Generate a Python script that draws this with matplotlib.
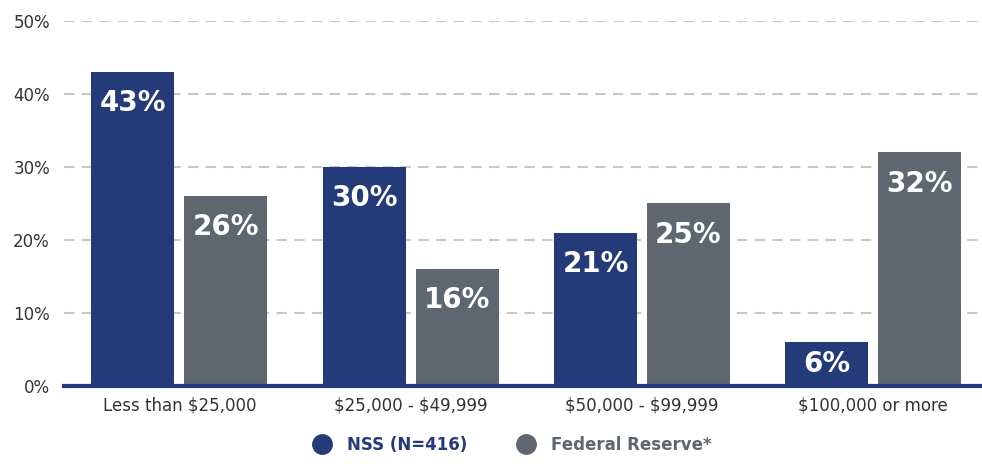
import matplotlib.pyplot as plt
import numpy as np
from matplotlib.lines import Line2D

plt.rcParams['text.parse_math'] = False

categories = ['Less than $25,000', '$25,000 - $49,999', '$50,000 - $99,999', '$100,000 or more']
nss = [43, 30, 21, 6]
fed = [26, 16, 25, 32]
series_names = ['NSS (N=416)', 'Federal Reserve*']

navy = '#253a79'
gray = '#5e6770'

fig = plt.figure(figsize=(9.82, 4.66), dpi=100)
ax = fig.add_axes([0.065, 0.172, 0.935, 0.783])

x = np.arange(len(categories))
w = 0.359
off = 0.201
b1 = ax.bar(x - off, nss, w, color=navy, zorder=3)
b2 = ax.bar(x + off, fed, w, color=gray, zorder=3)

for bars, vals in [(b1, nss), (b2, fed)]:
    for b, v in zip(bars, vals):
        ax.text(b.get_x() + b.get_width() / 2, max(v - 4.3, v * 0.5), f'{v}%', ha='center', va='center',
                color='white', fontsize=20, fontweight='bold', zorder=4)

ax.set_xlim(-0.5, 3.47)
ax.set_ylim(0, 50)
ax.set_yticks([0, 10, 20, 30, 40, 50])
ax.set_yticklabels([f'{t}%' for t in [0, 10, 20, 30, 40, 50]])
ax.set_xticks(x)
ax.set_xticklabels(categories)
ax.tick_params(axis='both', length=0, labelsize=12, labelcolor='#333333')
ax.tick_params(axis='y', pad=10)
ax.tick_params(axis='x', pad=8)

ax.grid(axis='y', color='#c8c8c8', linestyle=(0, (5, 3.5)), linewidth=1.5, zorder=0)
for s in ['top', 'right', 'left']:
    ax.spines[s].set_visible(False)
ax.spines['bottom'].set_color(navy)
ax.spines['bottom'].set_linewidth(3)
ax.spines['bottom'].set_zorder(5)

handles = [Line2D([], [], marker='o', linestyle='', markersize=14, color=navy),
           Line2D([], [], marker='o', linestyle='', markersize=14, color=gray)]
leg = fig.legend(handles, series_names, loc='center', bbox_to_anchor=(0.518, 0.045), ncol=2,
                 frameon=False, fontsize=12, handletextpad=0.5, columnspacing=2.5)
for t, c in zip(leg.get_texts(), [navy, gray]):
    t.set_color(c)
    t.set_fontweight('bold')

fig.savefig('out.png', dpi=100)
